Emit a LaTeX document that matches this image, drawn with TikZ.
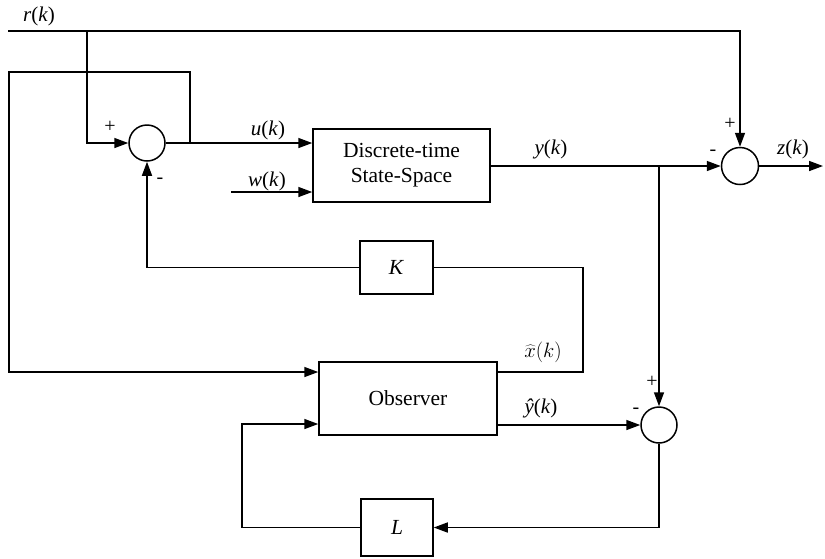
\documentclass[tikz,border=0pt]{standalone}
\usepackage{fontspec}
\setmainfont{Liberation Serif}
\usetikzlibrary{arrows.meta}
\begin{document}
\begin{tikzpicture}[x=1pt,y=-1pt,
  line width=1.5pt,
  arr/.style={-{Triangle[length=14pt,width=10pt]}},
  sumnode/.style={draw,circle,minimum size=36pt,inner sep=0pt},
  blk/.style={draw,rectangle,inner sep=0pt,align=center,font=\fontsize{21.5}{25}\selectfont},
  lbl/.style={inner sep=0pt,font=\fontsize{21}{25}\selectfont},
  sgn/.style={inner sep=0pt,font=\fontsize{20}{24}\selectfont}]
\useasboundingbox (0,0) rectangle (825,558);
% nodes
\node[sumnode] (s1) at (147,143) {};
\node[blk,minimum width=177pt,minimum height=73pt] (plant) at (401.5,165.5) {Discrete-time\\State-Space};
\node[sumnode,minimum size=37pt] (s2) at (740,166) {};
\node[blk,minimum width=73pt,minimum height=53pt] (K) at (396.5,267.5) {\textit{K}};
\node[blk,minimum width=178pt,minimum height=73pt] (obs) at (408,398.5) {Observer};
\node[sumnode] (s3) at (659,425) {};
\node[blk,minimum width=72pt,minimum height=57pt] (L) at (397,527.5) {\textit{L}};
% coordinates
\coordinate (rs) at (8,31);
\coordinate (rb) at (87,31);
\coordinate (fb) at (190,143);
\coordinate (ws) at (231,192);
\coordinate (yb) at (659,166);
\coordinate (zo) at (823,166);
% r(k)
\draw[arr] (rs) -| (s2.north);
\draw[arr] (rb) |- (s1.west);
% u(k)
\draw[arr] (s1.east) -- (s1.east -| plant.west);
\draw[arr] (fb) -- (190,72) -- (9,72) |- ([yshift=26.5pt]obs.west);
\draw[arr] (ws) -- (ws -| plant.west);
% y(k)
\draw[arr] (plant.east |- s2) -- (s2.west);
\draw[arr] (yb) -- (s3.north);
\draw[arr] (s2.east) -- (zo);
% K
\draw[arr] (K.west) -| (s1.south);
\draw (K.east) -- (583,267.5) |- ([yshift=26.5pt]obs.east);
% observer output
\draw[arr] (obs.east |- s3) -- (s3.west);
\draw[arr] (s3.south) |- (L.east);
\draw[arr] (L.west) -- (242,527.5) |- ([yshift=-25.5pt]obs.west);
% labels
\node[lbl] (lr) at (39,16) {\textit{r}(\textit{k})};
\node[lbl] (lu) at (268,130) {\textit{u}(\textit{k})};
\node[lbl] (lw) at (267,181) {\textit{w}(\textit{k})};
\node[lbl] (ly) at (551,149) {\textit{y}(\textit{k})};
\node[lbl] (lz) at (793,149) {\textit{z}(\textit{k})};
\node[lbl] (lx) at (543,352) {$\widehat{x}(k)$};
\node[lbl] (lyh) at (541,408) {\textit{ŷ}(\textit{k})};
% signs
\node[sgn] (p1) at (110,127) {+};
\node[sgn] (m1) at (160,181) {-};
\node[sgn] (p2) at (730,124) {+};
\node[sgn] (m2) at (713,153) {-};
\node[sgn] (p3) at (652,382) {+};
\node[sgn] (m3) at (636,411) {-};
\end{tikzpicture}
\end{document}
